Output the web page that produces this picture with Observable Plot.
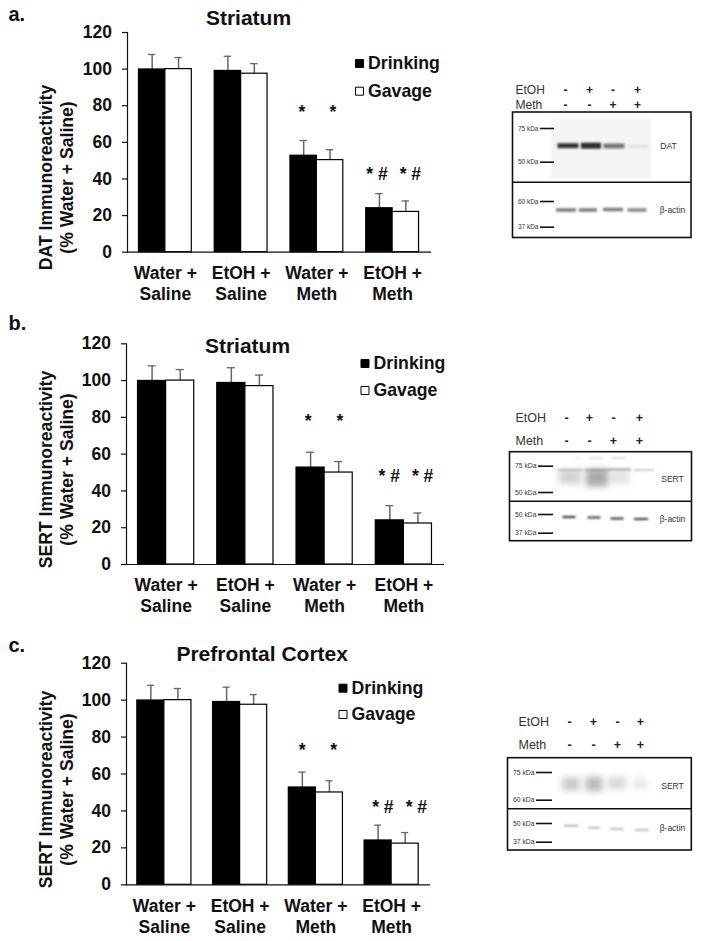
<!DOCTYPE html>
<html><head><meta charset="utf-8">
<script src="https://cdn.jsdelivr.net/npm/d3@7"></script>
<script src="https://cdn.jsdelivr.net/npm/@observablehq/plot@0.6"></script>
<style>
html,body{margin:0;padding:0;background:#fff}
#page{position:relative;width:701px;height:941px;overflow:hidden}
#page>svg{position:absolute}
</style></head><body><div id="page"></div>
<script>
const groups = ["Water + Saline","EtOH + Saline","Water + Meth","EtOH + Meth"];
const groupLabels = ["Water +\nSaline","EtOH +\nSaline","Water +\nMeth","EtOH +\nMeth"];
const series = ["Drinking","Gavage"];
const yTicks = [0,20,40,60,80,100,120];

const datA = {drink:[99.8,99,52.7,24], gav:[100,97.5,50.3,22], drinkTop:[108,107,61,32], gavTop:[106.3,103,56,28]};
const sertB = {drink:[99.8,98.7,52.7,24], gav:[100,97,50,22.3], drinkTop:[108,107,61,32], gavTop:[106,103,56,28]};
const sertC = {drink:[99.8,99,52.7,24], gav:[100,97.5,50,22.3], drinkTop:[108,107,61,32.3], gavTop:[106.3,103,56.3,28.3]};

const notes = ["*","*","* #","* #"];
const noteGroups = [2,2,3,3];
const noteSeries = [0,1,0,1];

const FONT = '"Liberation Sans", Arial, sans-serif';
const INK = "#111";

function chart(o){
  const rows = [];
  groups.forEach((g,i)=>{
    rows.push({g, s:series[0], v:o.d.drink[i], top:o.d.drinkTop[i]});
    rows.push({g, s:series[1], v:o.d.gav[i], top:o.d.gavTop[i]});
  });
  const legend = (name,i,fill)=>[
    Plot.dot([name],{frameAnchor:"top-left",dx:o.legendX,dy:o.legendY[i],symbol:"square",r:4.5,fill,stroke:"#000",strokeWidth:1,facet:"super"}),
    Plot.text([name],{frameAnchor:"top-left",dx:o.legendX+8.5,dy:o.legendY[i],text:d=>d,textAnchor:"start",lineAnchor:"middle",fontSize:17.7,fill:INK,facet:"super"})
  ];
  const svg = Plot.plot({
    width:460, height:310,
    marginLeft:o.left, marginRight:460-o.right, marginTop:o.top, marginBottom:o.bottom,
    style:{fontFamily:FONT,fontWeight:700,fontSize:"17.5px",background:"transparent",color:INK},
    fx:{domain:groups,padding:0,axis:null,round:false},
    x:{domain:series,paddingInner:0,paddingOuter:o.pad,axis:null,round:false},
    y:{domain:[0,120],axis:null},
    marks:[
      Plot.ruleX(rows,{fx:"g",x:"s",y1:"v",y2:"top",stroke:"#666",strokeWidth:1.5}),
      Plot.tickY(rows,{fx:"g",x:"s",y:"top",stroke:"#666",strokeWidth:1.3,insetLeft:o.capInset,insetRight:o.capInset}),
      Plot.barY(rows,{fx:"g",x:"s",y:"v",fill:d=>d.s===series[0]?"#000":"#fff",stroke:"#000",strokeWidth:1.2}),
      Plot.frame({anchor:"left",stroke:INK,strokeWidth:1.2,facet:"super"}),
      Plot.frame({anchor:"bottom",stroke:INK,strokeWidth:1.2,facet:"super"}),
      Plot.axisY({ticks:yTicks,tickSize:5,tickPadding:10.5,label:null,stroke:INK,strokeWidth:1.2,fontSize:17.5,fontWeight:700}),
      Plot.axisFx({anchor:"bottom",tickSize:0,tickPadding:12,label:null,lineHeight:1.2,fontSize:17.5,fontWeight:700,tickFormat:g=>groupLabels[groups.indexOf(g)]}),
      ...notes.map((t,i)=>Plot.text([t],{fx:()=>groups[noteGroups[i]],x:()=>series[noteSeries[i]],y:()=>o.noteY[i],text:d=>d,dx:o.noteDx[i],fontSize:17.5,fill:INK,lineAnchor:"middle"})),
      Plot.text([o.title],{frameAnchor:"top-left",dx:o.titleX-o.left,dy:o.titleY-o.top,text:d=>d,textAnchor:"middle",lineAnchor:"middle",fontSize:21,fill:INK,facet:"super"}),
      Plot.text([o.letter],{frameAnchor:"top-left",dx:8-o.left,dy:o.letterY-o.top,text:d=>d,textAnchor:"start",lineAnchor:"middle",fontSize:20,fill:INK,facet:"super"}),
      Plot.text([o.ylabel],{frameAnchor:"top-left",dx:55-o.left,dy:o.ylabelY-o.top,text:d=>d,rotate:-90,textAnchor:"middle",lineAnchor:"middle",lineHeight:1.23,fontSize:17.6,fill:INK,facet:"super"}),
      ...legend(series[0],0,"#000"),
      ...legend(series[1],1,"#fff")
    ]
  });
  svg.style.left="0px"; svg.style.top=o.pageTop+"px";
  document.getElementById("page").appendChild(svg);
}

chart({d:datA,pageTop:0,left:127,right:430,top:32,bottom:58.3,pad:0.434,capInset:9.5,
  title:"Striatum",titleX:248,titleY:18,letter:"a.",letterY:14,
  ylabel:"DAT Immunoreactivity\n(% Water + Saline)",ylabelY:177,
  legendX:359-127,legendY:[31,58.7],noteY:[76.5,76.5,42.5,42.5],noteDx:[-1.75,2.75,-2.5,4.5]});
chart({d:sertB,pageTop:310,left:126,right:443,top:33.3,bottom:56,pad:0.41,capInset:10,
  title:"Striatum",titleX:247,titleY:35.7,letter:"b.",letterY:13,
  ylabel:"SERT Immunoreactivity\n(% Water + Saline)",ylabelY:159,
  legendX:364.5-126,legendY:[19.7,46.7],noteY:[78,78,48,48],noteDx:[-2.3,1.3,-0.6,4.7]});
chart({d:sertC,pageTop:631,left:126,right:429,top:31.7,bottom:56.7,pad:0.40,capInset:10,
  title:"Prefrontal Cortex",titleX:261.7,titleY:23,letter:"c.",letterY:14,
  ylabel:"SERT Immunoreactivity\n(% Water + Saline)",ylabelY:158,
  legendX:342.5-126,legendY:[25,51.3],noteY:[73,73,42,42],noteDx:[-0.3,4.3,4.75,11.25]});

// Western-blot insets, positioned in the page's own units through linear scales
function blot(b){
  const w=201,h=b.y1-b.y0;
  const signs=[];
  b.etoh.forEach((s,i)=>signs.push({t:s,x:b.signX[i],y:b.rowY[0]}));
  b.meth.forEach((s,i)=>signs.push({t:s,x:b.signX[i],y:b.rowY[1]}));
  const bandOpts={x1:d=>d.x-d.w/2,x2:d=>d.x+d.w/2,y1:d=>d.y-d.h/2,y2:d=>d.y+d.h/2,fill:"#222",fillOpacity:"a"};
  const svg=Plot.plot({
    width:w,height:h,margin:0,
    style:{fontFamily:FONT,background:"transparent",color:"#333"},
    x:{domain:[500,701],range:[0,w],axis:null},
    y:{domain:[b.y0,b.y1],range:[0,h],axis:null},
    marks:[
      b.backdrop?Plot.rect([b.backdrop],{x1:"x1",x2:"x2",y1:"y1",y2:"y2",fill:"#f5f5f5"}):null,
      b.smears?Plot.rect(b.smears,{...bandOpts,imageFilter:"blur(3px)"}):null,
      Plot.rect(b.bands,{...bandOpts,imageFilter:`blur(${b.blur}px)`}),
      Plot.rect([b.box],{x1:"x1",x2:"x2",y1:"y1",y2:"y2",fill:"none",stroke:"#111",strokeWidth:1.6}),
      Plot.ruleY([b.box.mid],{x1:b.box.x1,x2:b.box.x2,stroke:"#111",strokeWidth:1.6}),
      Plot.text(["EtOH","Meth"],{x:b.labelX,y:(d,i)=>b.rowY[i],text:d=>d,textAnchor:"start",fontSize:b.fs,fill:"#333"}),
      Plot.text(signs,{x:"x",y:"y",text:"t",fontSize:b.fs,fontWeight:700,fill:"#222"}),
      Plot.ruleY(b.markers,{y:"y",x1:b.markX[0],x2:b.markX[1],stroke:"#111",strokeWidth:1.6}),
      Plot.text(b.markers,{x:b.markX[0]-2,y:"y",text:"t",textAnchor:"end",fontSize:b.kfs,fill:"#333"}),
      Plot.text(b.targets,{x:"x",y:"y",text:"t",fontSize:b.tfs,fill:"#333"})
    ].filter(Boolean)
  });
  svg.style.left="500px"; svg.style.top=b.y0+"px";
  document.getElementById("page").appendChild(svg);
}
const gelSigns={etoh:["-","+","-","+"],meth:["-","-","+","+"]};

blot({...gelSigns,y0:75,y1:245,labelX:515,rowY:[90,105],signX:[565,589,612.5,637],fs:12,kfs:6.5,tfs:8.5,blur:1.2,
  backdrop:{x1:551,x2:651,y1:118,y2:178},
  box:{x1:512.5,x2:691,y1:112,y2:237.5,mid:181.7},
  markX:[540,554],
  markers:[{t:"75 kDa",y:128},{t:"50 kDa",y:161.7},{t:"60 kDa",y:201},{t:"37 kDa",y:226.7}],
  targets:[{t:"DAT",x:668,y:145.7},{t:"β-actin",x:672,y:210}],
  bands:[{x:568,y:145.7,w:21,h:5,a:.92},{x:591,y:145.7,w:20,h:6,a:.95},{x:614,y:146,w:21,h:5,a:.6},{x:638,y:146.5,w:20,h:3,a:.1},
    {x:566,y:210,w:20,h:3.5,a:.6},{x:588,y:210,w:18,h:3.5,a:.6},{x:613,y:209.5,w:20,h:3.5,a:.6},{x:637,y:210,w:19,h:3.5,a:.55}]});

blot({...gelSigns,y0:400,y1:550,labelX:515,rowY:[417,440],signX:[566,589,613,639],fs:12.5,kfs:6.8,tfs:8.5,blur:1,
  box:{x1:509.5,x2:691.5,y1:451.7,y2:540.7,mid:500.7},
  markX:[538,553],
  markers:[{t:"75 kDa",y:465.7},{t:"50 kDa",y:492},{t:"50 kDa",y:514},{t:"37 kDa",y:532.7}],
  targets:[{t:"SERT",x:672,y:478.7},{t:"β-actin",x:672,y:519}],
  smears:[{x:570,y:477,w:22,h:14,a:.2},{x:597,y:478,w:22,h:17,a:.38},{x:620,y:477,w:18,h:14,a:.13}],
  bands:[{x:570,y:470,w:25,h:2.5,a:.22},{x:597,y:470,w:25,h:2.5,a:.28},{x:620,y:469.5,w:22,h:2.5,a:.3},{x:644,y:470,w:20,h:1.5,a:.3},
    {x:578,y:458,w:6,h:1.5,a:.1},{x:596,y:458,w:13,h:1.5,a:.18},{x:619,y:458,w:15,h:1.5,a:.2},
    {x:569,y:517,w:13,h:2,a:.95},{x:594,y:517.5,w:13,h:2,a:.9},{x:617,y:518.5,w:13,h:2,a:.95},{x:641,y:519,w:14,h:2,a:.9}]});

blot({...gelSigns,y0:705,y1:860,labelX:518,rowY:[721.7,744],signX:[569,593,617,640],fs:12.5,kfs:6.8,tfs:8.5,blur:1,
  box:{x1:507.5,x2:691.3,y1:757.7,y2:850,mid:808.3},
  markX:[536,552],
  markers:[{t:"75 kDa",y:772},{t:"60 kDa",y:799.7},{t:"50 kDa",y:823},{t:"37 kDa",y:841.7}],
  targets:[{t:"SERT",x:672,y:786},{t:"β-actin",x:672,y:827.7}],
  smears:[{x:571,y:784,w:18,h:13,a:.24},{x:594,y:784,w:17,h:15,a:.3},{x:617,y:783,w:18,h:12,a:.18},{x:640,y:783,w:13,h:11,a:.11}],
  bands:[{x:571,y:825.7,w:14,h:1.5,a:.45},{x:594,y:827.7,w:12,h:1.5,a:.4},{x:617,y:829,w:13,h:1.5,a:.4},{x:642,y:830,w:14,h:1.5,a:.4}]});
</script></body></html>
